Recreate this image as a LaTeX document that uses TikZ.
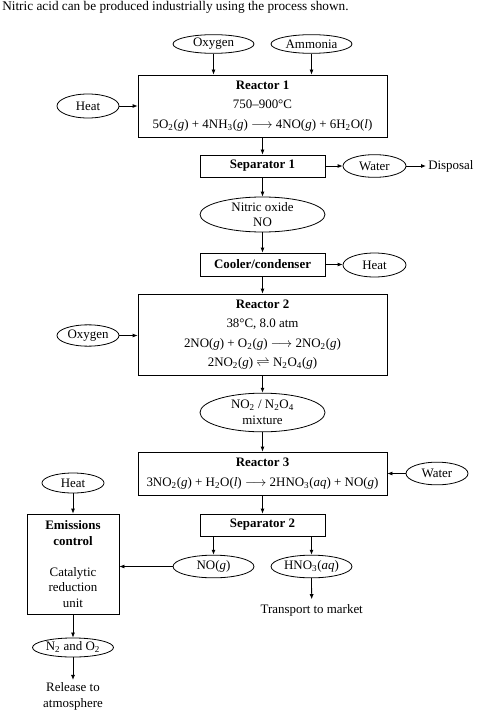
\documentclass[tikz,border=0pt]{standalone}
\usepackage{fontspec}
\setmainfont{Liberation Serif}
\usepackage{tikz}
\usetikzlibrary{shapes.geometric,arrows.meta}
\newcommand{\phase}[1]{(\textit{#1})}

\begin{document}
\begin{tikzpicture}[x=0.75pt,y=-0.75pt,
  every node/.style={font=\fontsize{9.7}{11.6}\selectfont},
  box/.style={draw,line width=0.6pt,inner sep=0pt,align=center,font=\fontsize{9.7}{14.5}\selectfont},
  oval/.style={ellipse,draw,line width=0.6pt,inner sep=0pt,inner ysep=-2.5pt,align=center},
  txt/.style={inner sep=2pt,align=center},
  flow/.style={-{Latex[length=3.75pt,width=3pt]},line width=0.6pt}]
\useasboundingbox (0,0) rectangle (480,713);
\node (title) at (2,11) [anchor=base west,inner sep=0pt,font=\fontsize{9.95}{12}\selectfont] {Nitric acid can be produced industrially using the process shown.};
%
\node (oxy1) at (213.5,44) [oval,minimum width=60.75pt,minimum height=14pt] {Oxygen};
\node (amm) at (311.5,44) [oval,minimum width=60.75pt,minimum height=14pt] {Ammonia};
\node (heat1) at (88,106) [oval,minimum width=46.5pt,minimum height=18pt] {Heat};
\node (r1) at (262.5,106) [box,minimum width=186.75pt,minimum height=46.5pt] {\textbf{Reactor 1}\\750–900°C\\5O\textsubscript{2}\phase{g} + 4NH\textsubscript{3}\phase{g} $\longrightarrow$ 4NO\phase{g} + 6H\textsubscript{2}O\phase{l}};
\node (sep1) at (262.5,166) [box,minimum width=93.75pt,minimum height=16.5pt] {\textbf{Separator 1}};
\node (water1) at (374.5,166) [oval,minimum width=47.25pt,minimum height=17pt] {Water};
\node (disp) at (426,166) [anchor=west,inner sep=1.5pt] {Disposal};
\node (no) at (262.5,214.5) [oval,minimum width=93.75pt,minimum height=26.25pt] {Nitric oxide\\NO};
\node (cool) at (262.5,264.5) [box,minimum width=93.75pt,minimum height=17.25pt] {\textbf{Cooler/condenser}};
\node (heat2) at (374.5,265) [oval,minimum width=47.25pt,minimum height=18pt] {Heat};
%%
\node (r2) at (262.5,334.5) [box,minimum width=186.75pt,minimum height=60.75pt] {\textbf{Reactor 2}\\38°C, 8.0 atm\\2NO\phase{g} + O\textsubscript{2}\phase{g} $\longrightarrow$ 2NO\textsubscript{2}\phase{g}\\2NO\textsubscript{2}\phase{g} $\rightleftharpoons$ N\textsubscript{2}O\textsubscript{4}\phase{g}};
\node (oxy2) at (88,335.5) [oval,minimum width=46.5pt,minimum height=16pt] {Oxygen};
\node (mix) at (262.5,412.5) [oval,minimum width=93.75pt,minimum height=29pt] {NO\textsubscript{2} / N\textsubscript{2}O\textsubscript{4}\\mixture};
\node (r3) at (262.5,473.5) [box,minimum width=186.75pt,minimum height=32.25pt] {\textbf{Reactor 3}\\3NO\textsubscript{2}\phase{g} + H\textsubscript{2}O\phase{l} $\longrightarrow$ 2HNO\textsubscript{3}\phase{aq} + NO\phase{g}};
\node (water2) at (437,473.5) [oval,minimum width=46.5pt,minimum height=17pt] {Water};
\node (sep2) at (262.5,525) [box,minimum width=93.75pt,minimum height=16.5pt] {\textbf{Separator 2}};
\node (nog) at (213.5,566.5) [oval,minimum width=60.75pt,minimum height=17pt] {NO\phase{g}};
\node (hno) at (311.5,566.5) [oval,minimum width=60.75pt,minimum height=17pt] {HNO\textsubscript{3}\phase{aq}};
\node (transp) at (311.7,610) [txt,inner sep=3.5pt] {Transport to market};
%%
\node (heat3) at (73,483) [oval,minimum width=46.5pt,minimum height=15pt] {Heat};
\node (emis) at (73,564) [box,minimum width=69pt,minimum height=75pt,font=\fontsize{9.7}{11.6}\selectfont] {\textbf{Emissions}\\\textbf{control}\\[11.6pt]Catalytic\\reduction\\unit};
\node (n2o2) at (73,647.5) [oval,minimum width=60.75pt,minimum height=14.3pt] {N\textsubscript{2} and O\textsubscript{2}};
\node (rel) at (73,696.5) [txt] {Release to\\atmosphere};
%
\draw [flow] (oxy1.south) -- (oxy1.south |- r1.north);
\draw [flow] (amm.south) -- (amm.south |- r1.north);
\draw [flow] (heat1.east) -- (heat1.east -| r1.west);
\draw [flow] (r1.south) -- (sep1.north);
\draw [flow] (sep1.east) -- (water1.west);
\draw [flow] (water1.east) -- (disp.west);
\draw [flow] (sep1.south) -- (no.north);
\draw [flow] (no.south) -- (cool.north);
\draw [flow] (cool.east) -- (cool.east -| heat2.west);
\draw [flow] (cool.south) -- (r2.north);
\draw [flow] (oxy2.east) -- (oxy2.east -| r2.west);
\draw [flow] (r2.south) -- (mix.north);
\draw [flow] (mix.south) -- (r3.north);
\draw [flow] (water2.west) -- (water2.west -| r3.east);
\draw [flow] (r3.south) -- (sep2.north);
\draw [flow] (nog.north |- sep2.south) -- (nog.north);
\draw [flow] (hno.north |- sep2.south) -- (hno.north);
\draw [flow] (hno.south) -- (transp.north);
\draw [flow] (nog.west) -- (nog.west -| emis.east);
\draw [flow] (heat3.south) -- (emis.north);
\draw [flow] (emis.south) -- (n2o2.north);
\draw [flow] (n2o2.south) -- (rel.north);
\end{tikzpicture}
\end{document}
